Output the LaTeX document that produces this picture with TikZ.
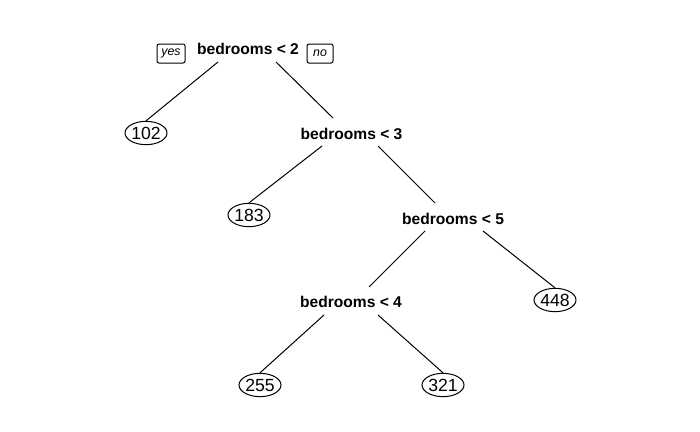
\documentclass[tikz,border=0pt]{standalone}
\usepackage{fontspec}
\setmainfont{Liberation Sans}
\usetikzlibrary{shapes.geometric,calc}
\tikzset{
  splitlbl/.style={anchor=base, inner sep=0pt, font=\fontsize{11.7}{14}\selectfont\bfseries},
  leafnode/.style={ellipse, draw, line width=0.75pt, minimum width=31.5pt, minimum height=17.5pt, inner sep=0pt, font=\fontsize{13.2}{15}\selectfont},
  tagbox/.style={draw, line width=0.75pt, rounded corners=1.5pt, inner sep=0pt, font=\fontsize{9.3}{11}\selectfont\itshape},
  branch/.style={line width=0.75pt}
}
\begin{document}
\begin{tikzpicture}[x=0.75pt, y=-0.75pt]
\useasboundingbox (0,0) rectangle (700,432);
% split labels
\node[splitlbl] (r)  at (248,55)    {bedrooms < 2};
\node[splitlbl] (s3) at (351.5,139) {bedrooms < 3};
\node[splitlbl] (s5) at (453,224)   {bedrooms < 5};
\node[splitlbl] (s4) at (351,307)   {bedrooms < 4};
% yes/no tags
\node[tagbox, minimum width=21pt, minimum height=14.25pt] (yes) at (171,53.5) {yes};
\node[tagbox, minimum width=19.5pt, minimum height=14.25pt] (no) at (320,53.5) {no};
% leaves
\node[leafnode] (l102) at (146,133) {102};
\node[leafnode] (l183) at (249,215) {183};
\node[leafnode] (l448) at (555,300) {448};
\node[leafnode] (l255) at (260,385) {255};
\node[leafnode] (l321) at (443,385) {321};
% branches
\draw[branch] ($(r.base)+(-30,7)$) -- (l102.north);
\draw[branch] ($(r.base)+(28,7)$) -- ($(s3.base)+(-18.5,-21)$);
\draw[branch] ($(s3.base)+(-29.5,7)$) -- (l183.north);
\draw[branch] ($(s3.base)+(26.5,7)$) -- ($(s5.base)+(-18,-21)$);
\draw[branch] ($(s5.base)+(-28,7)$) -- ($(s4.base)+(18,-20)$);
\draw[branch] ($(s5.base)+(30,7)$) -- (l448.north);
\draw[branch] ($(s4.base)+(-27,8)$) -- (l255.north);
\draw[branch] ($(s4.base)+(27,8)$) -- (l321.north);
\end{tikzpicture}
\end{document}
